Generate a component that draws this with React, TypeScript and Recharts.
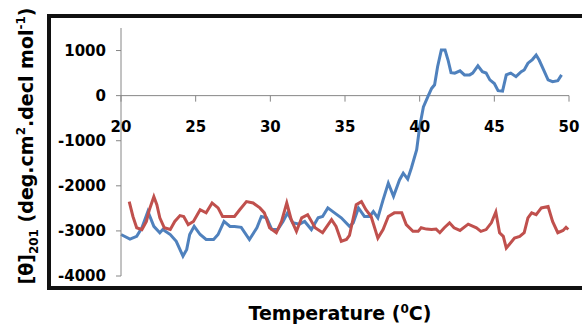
import React from 'react';
import { LineChart, Line, XAxis, YAxis, ReferenceLine } from 'recharts';

// blue trace: temperature (°C) and ellipticity
const blueTemp = [
  20, 20.6, 21.05, 21.4, 21.8, 22.2, 22.6, 22.8, 23.3, 23.7, 24.15, 24.4, 24.6, 24.9, 25.3, 25.7, 26.2, 26.5, 26.9, 27.3,
  27.6, 28.05, 28.6, 29.1, 29.4, 29.75, 30.1, 30.5, 30.85, 31.15, 31.5, 31.95, 32.3, 32.75, 33.2, 33.5, 33.85, 34.3, 34.75, 35.3,
  35.55, 35.9, 36.3, 36.65, 36.9, 37.2, 37.55, 37.9, 38.25, 38.65, 38.9, 39.2, 39.45, 39.8, 40, 40.25, 40.55, 40.8, 41, 41.2,
  41.45, 41.7, 41.9, 42.1, 42.35, 42.7, 43, 43.35, 43.55, 43.9, 44.2, 44.45, 44.7, 45, 45.25, 45.55, 45.8, 46.1, 46.45, 46.8,
  47, 47.25, 47.55, 47.8, 48, 48.3, 48.6, 48.9, 49.25, 49.5,
];
const blueValues = [
  -3080, -3180, -3120, -2930, -2570, -2900, -3040, -2970, -3080, -3230, -3560, -3410, -3080, -2900, -3080, -3190, -3190, -3080, -2790, -2900,
  -2900, -2920, -3190, -2930, -2680, -2710, -2970, -2970, -2790, -2600, -2820, -2850, -2790, -2970, -2710, -2680, -2490, -2600, -2710, -2900,
  -2820, -2490, -2680, -2680, -2570, -2710, -2310, -1940, -2230, -1870, -1720, -1850, -1600, -1200, -690, -250, -20, 160, 240, 640,
  1010, 1010, 790, 510, 500, 550, 460, 460, 500, 660, 530, 500, 350, 270, 110, 100, 460, 500, 420, 530,
  570, 720, 800, 900, 790, 570, 350, 310, 330, 460,
];

// red trace
const redTemp = [
  20.55, 20.8, 21.05, 21.4, 21.7, 21.9, 22.2, 22.4, 22.6, 22.9, 23.3, 23.6, 23.95, 24.2, 24.5, 24.85, 25.3, 25.7, 26.1, 26.5,
  26.8, 27.3, 27.6, 27.95, 28.4, 28.85, 29.3, 29.6, 29.95, 30.4, 30.75, 31.1, 31.4, 31.75, 32.1, 32.5, 33, 33.5, 34.1, 34.4,
  34.75, 35.1, 35.3, 35.75, 36.1, 36.4, 36.75, 37.2, 37.55, 37.9, 38.3, 38.8, 39.1, 39.55, 39.9, 40.1, 40.45, 40.8, 41.1, 41.35,
  41.65, 42, 42.3, 42.7, 43.25, 43.8, 44.1, 44.45, 44.8, 45.1, 45.35, 45.6, 45.8, 46, 46.35, 46.7, 47, 47.25, 47.5, 47.8,
  48.15, 48.6, 48.9, 49.25, 49.6, 49.8, 49.95,
];
const redValues = [
  -2350, -2680, -2930, -2970, -2790, -2530, -2240, -2420, -2710, -2930, -2970, -2790, -2660, -2680, -2860, -2790, -2530, -2600, -2380, -2490,
  -2680, -2680, -2680, -2530, -2350, -2380, -2490, -2600, -2930, -3040, -2790, -2380, -2750, -3010, -2710, -2640, -2930, -3040, -2750, -2900,
  -3230, -3190, -3100, -2420, -2350, -2530, -2680, -3160, -2970, -2680, -2600, -2600, -2860, -3010, -3010, -2930, -2960, -2970, -2960, -3040,
  -2930, -2820, -2930, -2990, -2850, -2930, -3010, -2970, -2820, -2580, -3040, -3120, -3380, -3300, -3160, -3120, -3040, -2710, -2600, -2640,
  -2490, -2460, -2790, -3040, -2990, -2920, -2970,
];

const xTicks = [20, 25, 30, 35, 40, 45, 50];
const yTicks = [-4000, -3000, -2000, -1000, 0, 1000];
const yDomain = [-4000, 1500];

const blueData = blueTemp.map((t, i) => ({ t, v: blueValues[i] }));
const redData = redTemp.map((t, i) => ({ t, v: redValues[i] }));

const W = 582;
const H = 324;
const TOP = 28;
const BOTTOM = 276;
const LEFT = 121;
const RIGHT = 569;
const Y_AXIS_W = 60;
const X_AXIS_H = 30;
const FONT = "'DejaVu Sans', Verdana, sans-serif";

// the x axis crosses at 0, so its ticks sit on the zero line
const zeroY = TOP + ((BOTTOM - TOP) * yDomain[1]) / (yDomain[1] - yDomain[0]);

const XTick = (props: any) => {
  const { x, payload } = props;
  return (
    <g>
      <line x1={x} x2={x} y1={zeroY} y2={zeroY + 6} stroke="#868686" strokeWidth={1} />
      <text x={x} y={zeroY + 36} textAnchor="middle" fontFamily={FONT} fontWeight="bold" fontSize={15} fill="#000">
        {payload.value}
      </text>
    </g>
  );
};

export default function App() {
  return (
    <div style={{ position: 'absolute', left: 0, top: 0, width: W, height: H, overflow: 'hidden', background: '#fff' }}>
      <div
        style={{
          position: 'absolute', left: 47, top: 14, width: 600, height: 276,
          border: '4px solid #111', boxSizing: 'border-box',
        }}
      />
      <LineChart
        width={W}
        height={H}
        margin={{ top: TOP, right: W - RIGHT, bottom: H - BOTTOM - X_AXIS_H, left: LEFT - Y_AXIS_W }}
        style={{ position: 'absolute', left: 0, top: 0 }}
      >
        <XAxis
          dataKey="t"
          type="number"
          domain={[20, 50]}
          ticks={xTicks}
          height={X_AXIS_H}
          axisLine={false}
          tickLine={false}
          tick={<XTick />}
          allowDuplicatedCategory={false}
        />
        <YAxis
          type="number"
          domain={yDomain}
          ticks={yTicks}
          width={Y_AXIS_W}
          axisLine={{ stroke: '#868686' }}
          tickLine={{ stroke: '#868686' }}
          tickSize={5}
          tickMargin={10}
          tick={{ fontFamily: FONT, fontWeight: 'bold', fontSize: 15, fill: '#000' }}
        />
        <ReferenceLine y={0} stroke="#868686" strokeWidth={1} />
        <Line data={blueData} dataKey="v" stroke="#4F81BD" strokeWidth={3} dot={false} isAnimationActive={false} />
        <Line data={redData} dataKey="v" stroke="#C0504D" strokeWidth={3} dot={false} isAnimationActive={false} />
      </LineChart>
      <div
        style={{
          position: 'absolute', left: 28, top: 146, transform: 'translate(-50%, -50%) rotate(-90deg)',
          whiteSpace: 'nowrap', fontFamily: FONT, fontWeight: 'bold', fontSize: 19, lineHeight: '19px', color: '#000',
        }}
      >
        [θ]<sub style={{ fontSize: 12 }}>201</sub> (deg.cm<sup style={{ fontSize: 12 }}>2</sup>.decl mol<sup style={{ fontSize: 12 }}>-1</sup>)
      </div>
      <div
        style={{
          position: 'absolute', left: 340, top: 300, transform: 'translateX(-50%)',
          whiteSpace: 'nowrap', fontFamily: FONT, fontWeight: 'bold', fontSize: 19, lineHeight: '19px', color: '#000',
        }}
      >
        Temperature (<sup style={{ fontSize: 12 }}>0</sup>C)
      </div>
    </div>
  );
}
